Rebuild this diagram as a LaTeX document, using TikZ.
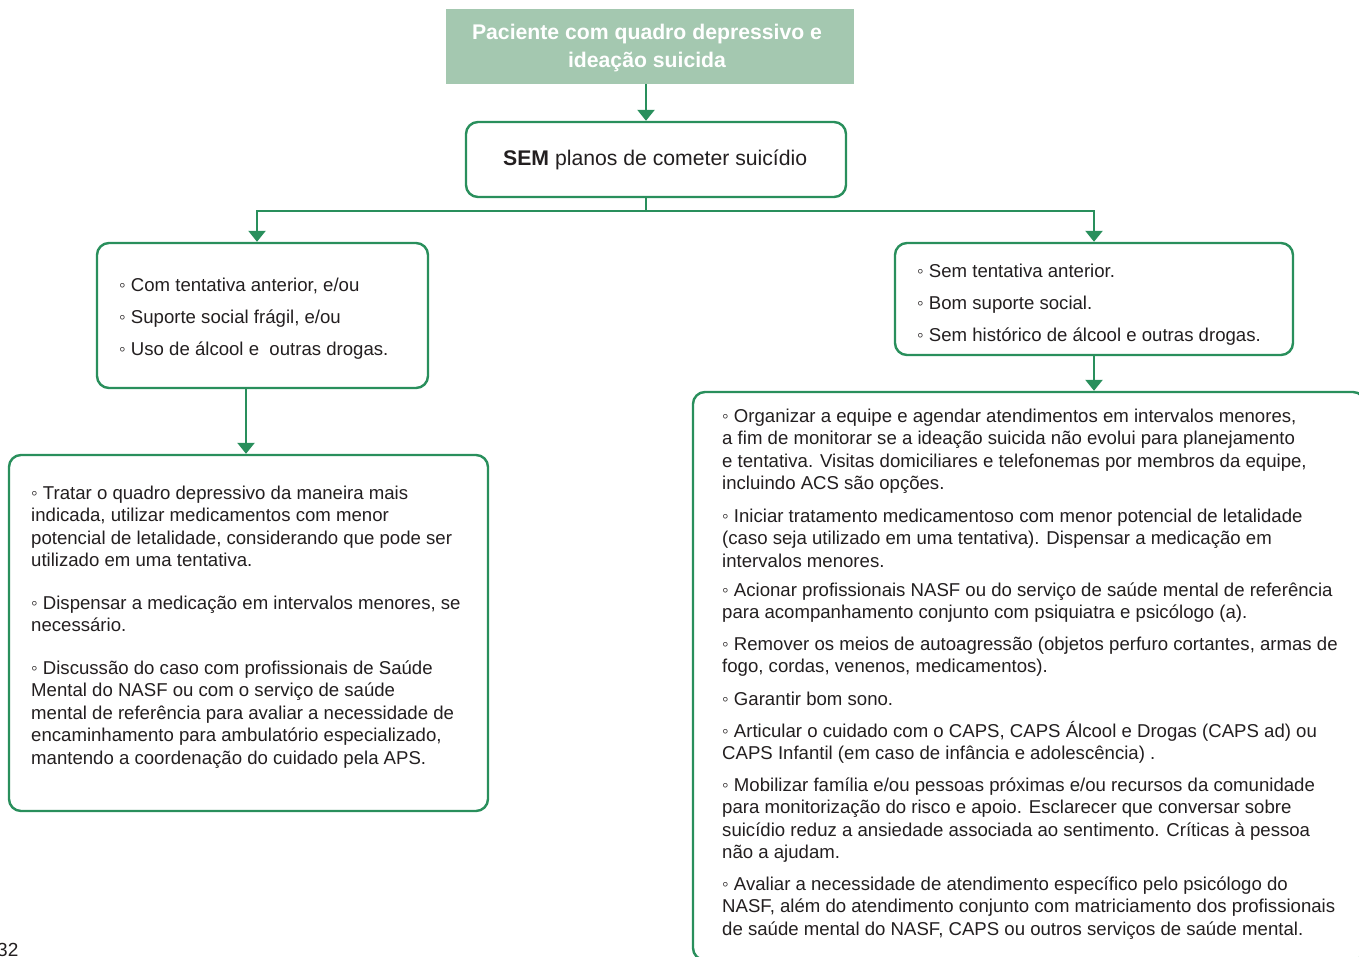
\documentclass[tikz,border=0pt]{standalone}
\usepackage{fontspec}
\setmainfont{Liberation Sans}
\usetikzlibrary{arrows.meta}
\definecolor{grn}{RGB}{41,143,92}
\definecolor{lgrn}{RGB}{164,200,176}
\definecolor{txt}{RGB}{35,31,32}
\tikzset{
  box/.style={draw=grn, line width=2.4pt, rounded corners=12pt, fill=white},
  conn/.style={draw=grn, line width=2.4pt},
  arr/.style={conn, -{Triangle[width=17pt,length=11pt]}},
  para/.style={anchor=base west, inner sep=0pt, align=left, text=txt,
    font={\fontsize{18.6}{22.6}\selectfont}},
  list/.style={anchor=base west, inner sep=0pt, align=left, text=txt,
    font={\fontsize{18.6}{32}\selectfont}},
}
\begin{document}
\begin{tikzpicture}[x=1pt,y=-1pt]
\useasboundingbox (0,0) rectangle (1359,956);
\begin{scope}
\clip (0,0) rectangle (1359,956);
% boxes
\node[fill=lgrn, minimum width=408pt, minimum height=75pt, inner sep=0pt]
  (title) at (650,46.5) {};
\node[inner sep=0pt, text=white, align=center, font={\bfseries\fontsize{21.2}{28.5}\selectfont}]
  (titletxt) at (647,48) {Paciente com quadro depressivo e\\ideação suicida};
\node[box, minimum width=380pt, minimum height=75pt, inner sep=0pt] (sem) at (656,159.5) {};
\node[anchor=base west, inner sep=0pt, text=txt, font={\fontsize{21.2}{24}\selectfont}]
  (semtxt) at (503,165.5) {\textbf{SEM} planos de cometer suicídio};
\node[box, minimum width=331pt, minimum height=145pt] (l1) at (262.5,315.5) {};
\node[box, minimum width=398pt, minimum height=112pt] (r1) at (1094,299) {};
\node[box, minimum width=479pt, minimum height=356pt] (l2) at (248.5,633) {};
\node[box, minimum width=672pt, minimum height=568pt] (r2) at (1029,676) {};
% connectors
\coordinate (mid) at (646,211);
\coordinate (lft) at (257,211);
\coordinate (rgt) at (1094,211);
\coordinate (lx) at (246,0);
\draw[arr] (title.south -| mid) -- (sem.north -| mid);
\draw[conn] (sem.south -| mid) -- (mid);
\draw[arr] (mid) -- (lft) -- (l1.north -| lft);
\draw[arr] (mid) -- (rgt) -- (r1.north -| rgt);
\draw[arr] (l1.south -| lx) -- (l2.north -| lx);
\draw[arr] (r1.south) -- (r2.north -| r1.south);
% texts (anchored at the baseline of the last line)
\node[list] (l1t) at (119,355) {◦ Com tentativa anterior, e/ou\\◦ Suporte social frágil, e/ou\\◦ Uso de álcool e\ \ outras drogas.};
\node[list] (r1t) at (917,341) {◦ Sem tentativa anterior.\\◦ Bom suporte social.\\◦ Sem histórico de álcool e outras drogas.};
\node[para] (l2a) at (31,566.8) {◦ Tratar o quadro depressivo da maneira mais\\indicada, utilizar medicamentos com menor\\potencial de letalidade, considerando que pode ser\\utilizado em uma tentativa.};
\node[para] (l2b) at (31,631.6) {◦ Dispensar a medicação em intervalos menores, se\\necessário.};
\node[para] (l2c) at (31,764.4) {◦ Discussão do caso com profissionais de Saúde\\Mental do NASF ou com o serviço de saúde\\mental de referência para avaliar a necessidade de\\encaminhamento para ambulatório especializado,\\mantendo a coordenação do cuidado pela APS.};
\node[para] (r2a) at (722,489.8) {◦ Organizar a equipe e agendar atendimentos em intervalos menores,\\a fim de monitorar se a ideação suicida não evolui para planejamento\\e tentativa. Visitas domiciliares e telefonemas por membros da equipe,\\incluindo ACS são opções.};
\node[para] (r2b) at (722,567.2) {◦ Iniciar tratamento medicamentoso com menor potencial de letalidade\\(caso seja utilizado em uma tentativa). Dispensar a medicação em\\intervalos menores.};
\node[para] (r2c) at (722,618.6) {◦ Acionar profissionais NASF ou do serviço de saúde mental de referência\\para acompanhamento conjunto com psiquiatra e psicólogo (a).};
\node[para] (r2d) at (722,672.6) {◦ Remover os meios de autoagressão (objetos perfuro cortantes, armas de\\fogo, cordas, venenos, medicamentos).};
\node[para] (r2e) at (722,705) {◦ Garantir bom sono.};
\node[para] (r2f) at (722,759.6) {◦ Articular o cuidado com o CAPS, CAPS Álcool e Drogas (CAPS ad) ou\\CAPS Infantil (em caso de infância e adolescência) .};
\node[para] (r2g) at (722,858.8) {◦ Mobilizar família e/ou pessoas próximas e/ou recursos da comunidade\\para monitorização do risco e apoio. Esclarecer que conversar sobre\\suicídio reduz a ansiedade associada ao sentimento. Críticas à pessoa\\não a ajudam.};
\node[para] (r2h) at (722,935.2) {◦ Avaliar a necessidade de atendimento específico pelo psicólogo do\\NASF, além do atendimento conjunto com matriciamento dos profissionais\\de saúde mental do NASF, CAPS ou outros serviços de saúde mental.};
\node[anchor=base west, inner sep=0pt, text=txt, font={\fontsize{19}{22}\selectfont}] (pg) at (-3,956) {32};
\end{scope}
\end{tikzpicture}
\end{document}
